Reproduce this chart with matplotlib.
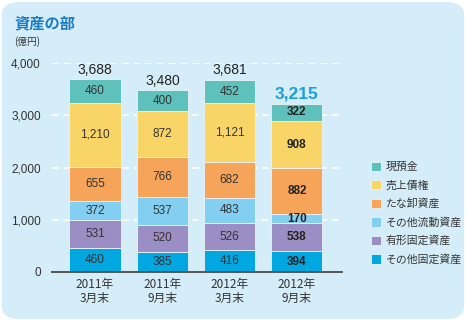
import matplotlib.pyplot as plt
from matplotlib.patches import FancyBboxPatch

plt.rcParams['font.family'] = ['Noto Sans CJK JP', 'DejaVu Sans']

# Data (億円)
periods = ['2011年\n3月末', '2011年\n9月末', '2012年\n3月末', '2012年\n9月末']
other_fixed = [460, 385, 416, 394]
tangible = [531, 520, 526, 538]
other_current = [372, 537, 483, 170]
inventory = [655, 766, 682, 882]
receivables = [1210, 872, 1121, 908]
cash = [460, 400, 452, 322]
totals = [3688, 3480, 3681, 3215]

series = [
    ('その他固定資産', other_fixed, '#00a7e1'),
    ('有形固定資産', tangible, '#9b8ec4'),
    ('その他流動資産', other_current, '#82cff2'),
    ('たな卸資産', inventory, '#f6a459'),
    ('売上債権', receivables, '#f9d567'),
    ('現預金', cash, '#5fc1bc'),
]

bg = '#d5edf8'
txt = '#333333'
num_font = ['Liberation Sans', 'DejaVu Sans']

fig = plt.figure(figsize=(4.66, 3.21), dpi=100)
fig.patch.set_facecolor('white')
fig.patches.append(FancyBboxPatch((0.004, 0.006), 0.992, 0.988,
                                  boxstyle='round,pad=0,rounding_size=0.04',
                                  transform=fig.transFigure, facecolor=bg,
                                  edgecolor='none', zorder=-1))

ax = fig.add_axes([52 / 466, 49 / 321, 290 / 466, 209 / 321])
ax.set_facecolor('none')
ax.set_zorder(2)

x = list(range(len(periods)))
bottom = [0] * len(periods)
handles = []
for name, vals, color in series:
    b = ax.bar(x, vals, width=0.76, bottom=bottom, color=color,
               edgecolor='#e8f4fa', linewidth=0.6, label=name, zorder=3)
    handles.append(b)
    for i, v in enumerate(vals):
        yc = bottom[i] + v / 2
        if i == 3 and v < 250:
            yc = bottom[i] + v / 2 - 10
        ax.text(i, yc, f'{v:,}', ha='center', va='center', fontsize=8.5,
                color='#222222' if i == 3 else txt,
                fontweight='bold' if i == 3 else 'normal', zorder=4,
                family=num_font)
    bottom = [bo + v for bo, v in zip(bottom, vals)]

for i, t in enumerate(totals):
    if i == 3:
        ax.text(i, bottom[i] + 55, f'{t:,}', ha='center', va='bottom',
                fontsize=12.5, fontweight='bold', color='#1a9ee0',
                family=num_font)
    else:
        ax.text(i, bottom[i] + 45, f'{t:,}', ha='center', va='bottom',
                fontsize=10, color='#222222', family=num_font)

ax.set_xlim(-0.64, 3.67)
ax.set_ylim(0, 4000)
ax.set_yticks([0, 1000, 2000, 3000, 4000])
ax.set_yticklabels(['0', '1,000', '2,000', '3,000', '4,000'], family=num_font)
ax.grid(axis='y', color='white', linestyle=(0, (4, 3)), linewidth=1.2, zorder=1)
ax.set_axisbelow(True)
ax.set_xticks(x)
ax.set_xticklabels(periods, fontsize=8.5, color=txt, linespacing=1.15)
ax.tick_params(axis='y', length=0, labelsize=8.5, labelcolor=txt, pad=8)
ax.tick_params(axis='x', length=0, pad=4)
for s in ['top', 'right', 'left']:
    ax.spines[s].set_visible(False)
ax.spines['bottom'].set_color('#555555')
ax.spines['bottom'].set_linewidth(1.4)
ax.spines['bottom'].set_zorder(5)

fig.text(14 / 466, 1 - 23 / 321, '資産の部', fontsize=11, fontweight='bold',
         color='#1a7cc1', va='center')
fig.text(14 / 466, 1 - 42 / 321, '(億円)', fontsize=7, color=txt, va='center')

fig.legend(handles[::-1], [s[0] for s in series][::-1], loc='upper left',
           bbox_to_anchor=(361 / 466, 1 - 152 / 321), frameon=False,
           fontsize=7.8, handlelength=0.95, handleheight=0.95, handletextpad=0.45,
           labelspacing=0.72, labelcolor=txt)

fig.savefig('out.png', dpi=100)
